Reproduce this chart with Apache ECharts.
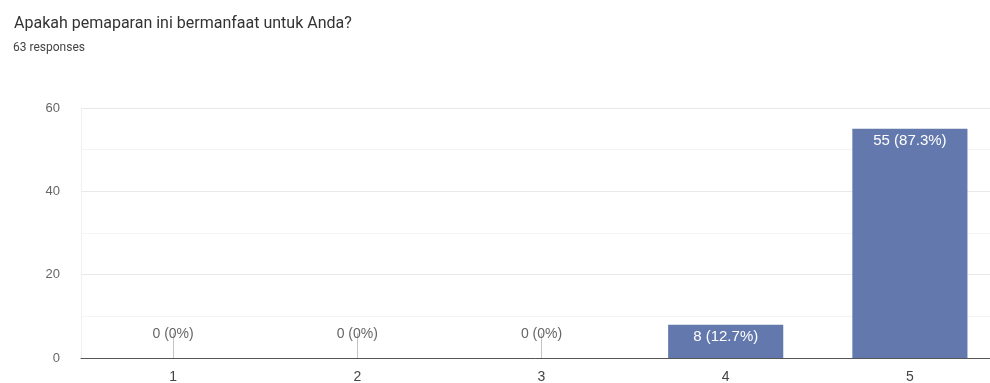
<!DOCTYPE html>
<html><head><meta charset="utf-8">
<script src="https://cdn.jsdelivr.net/npm/echarts@6/dist/echarts.min.js"></script>
<style>html,body{margin:0;padding:0;background:#fff;}#c{width:990px;height:383px;}</style>
</head><body><div id="c"></div>
<script>
var titleText = 'Apakah pemaparan ini bermanfaat untuk Anda?';
var subtitleText = '63 responses';
var categories = ['1', '2', '3', '4', '5'];
var counts = [0, 0, 0, 8, 55];
var percents = ['0%', '0%', '0%', '12.7%', '87.3%'];

var chart = echarts.init(document.getElementById('c'));
var data = counts.map(function (v, i) {
  var lbl = v + ' (' + percents[i] + ')';
  if (v === 0) {
    return { value: v, label: { show: true, position: 'top', distance: 17, color: '#666', fontSize: 14, formatter: lbl } };
  }
  return { value: v, label: { show: true, position: 'insideTop', distance: 5, color: '#fff', fontSize: 15, formatter: lbl } };
});
chart.setOption({
  animation: false,
  title: [
    { text: titleText, left: 9, top: 11, padding: 5, textStyle: { fontFamily: 'Roboto', fontSize: 16, fontWeight: 'normal', color: '#333' } },
    { text: subtitleText, left: 8, top: 37, padding: 5, textStyle: { fontFamily: 'Roboto', fontSize: 12, fontWeight: 'normal', color: '#444' } }
  ],
  grid: { left: 81, right: -12, top: 108, bottom: 25, outerBoundsMode: 'none', containLabel: false },
  xAxis: {
    type: 'category', data: categories,
    axisLine: { lineStyle: { color: '#555', width: 1 } },
    axisTick: { show: true, inside: true, alignWithLabel: true, length: 25, lineStyle: { color: '#c4c4c4' } },
    axisLabel: { fontFamily: 'Liberation Sans', fontSize: 14, color: '#444', margin: 12 }
  },
  yAxis: {
    type: 'value', min: 0, max: 60, interval: 20,
    axisLabel: { fontFamily: 'Liberation Sans', fontSize: 13, color: '#666', margin: 21 },
    axisLine: { show: true, lineStyle: { color: '#f0f0f0' } }, axisTick: { show: false },
    splitLine: { lineStyle: { color: '#e8e8e8' } },
    minorTick: { show: false, splitNumber: 2 },
    minorSplitLine: { show: true, lineStyle: { color: '#f4f4f4' } }
  },
  series: [{
    type: 'bar', data: data, barWidth: '62.5%',
    itemStyle: { color: '#6379ad' },
    label: { fontFamily: 'Liberation Sans' }
  }]
});
</script></body></html>
